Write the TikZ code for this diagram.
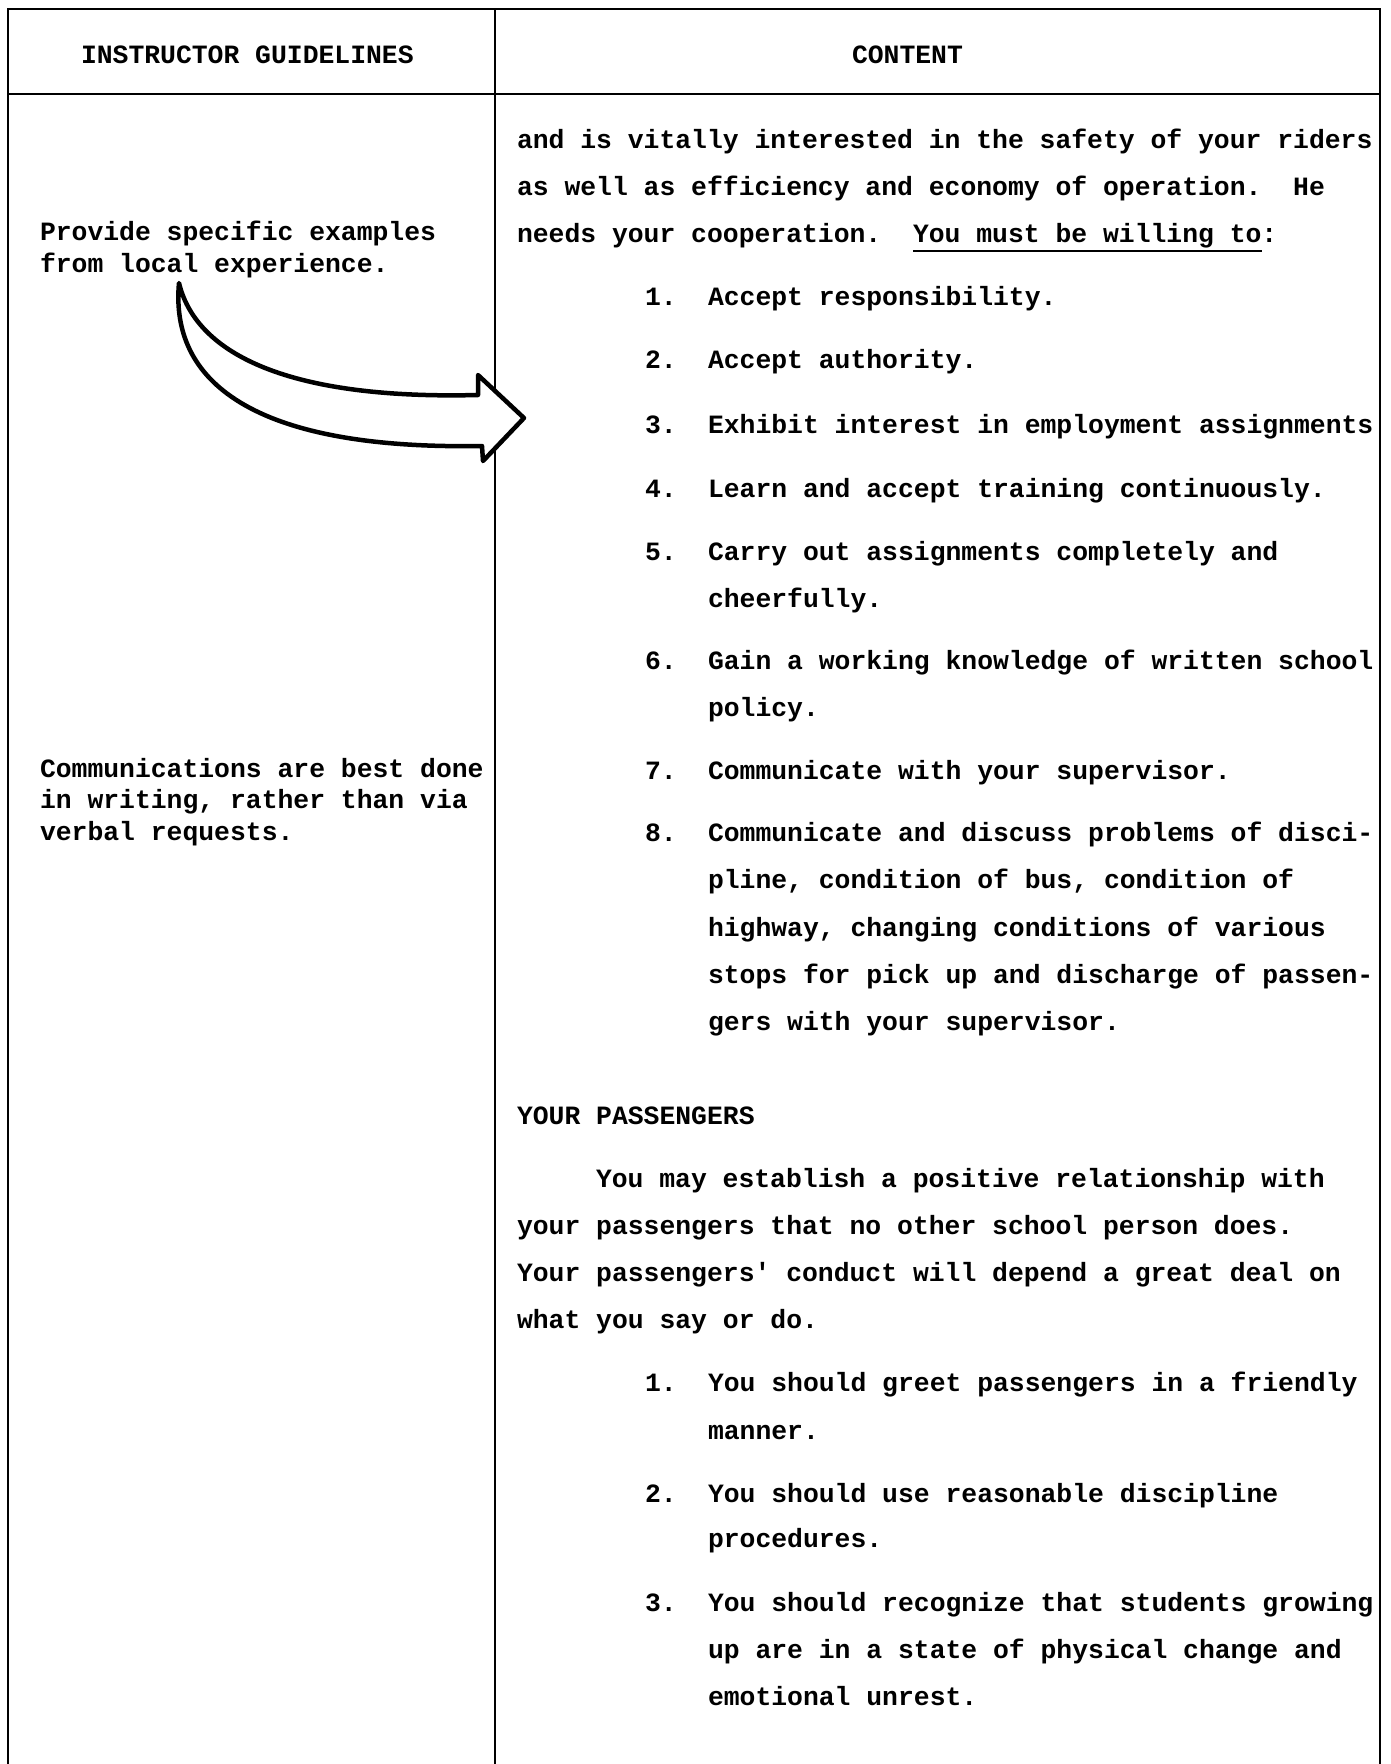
\documentclass[tikz,border=0pt]{standalone}
\usepackage{fontspec}
\newfontfamily\tw{Liberation Mono}
\tikzset{
  tbl/.style={line width=2.8pt, line cap=rect},
  ln/.style={anchor=base west, inner sep=0pt, outer sep=0pt, font=\tw\bfseries\fontsize{26.4}{31.5}\selectfont},
  hd/.style={ln},
  blockarrow/.style={line width=4.5pt, fill=white, line join=round}
}
\begin{document}
\begin{tikzpicture}[x=1pt, y=-1pt]
\fill[white] (0,0) rectangle (1391,1764);
\path[use as bounding box] (0,0) rectangle (1391,1764);
% table frame
\draw[tbl] (8,9) -- (1380,9);
\draw[tbl] (8,94) -- (1380,94);
\draw[tbl] (8,9) -- (8,1764);
\draw[tbl] (495,9) -- (495,1764);
\draw[tbl] (1380,9) -- (1380,1764);
% headers
\node[hd] (h1) at (81,63) {INSTRUCTOR GUIDELINES};
\node[hd] (h2) at (852,63) {CONTENT};
% left column
\node[ln] (g1a) at (40,240) {Provide specific examples};
\node[ln] (g1b) at (40,272) {from local experience.};
\node[ln] (g2a) at (40,777) {Communications are best done};
\node[ln] (g2b) at (40,808) {in writing, rather than via};
\node[ln] (g2c) at (40,840) {verbal requests.};
% intro
\node[ln] (i1) at (517,148) {and is vitally interested in the safety of your riders};
\node[ln] (i2) at (517,195) {as well as efficiency and economy of operation.\ \ He};
\node[ln] (i3) at (517,242) {needs your cooperation.\ \ You must be willing to:};
\draw[line width=2pt] (913,251) -- (1262,251);
% list 1
\node[ln] (n1) at (645,305) {1.};  \node[ln] (t1) at (708,305) {Accept responsibility.};
\node[ln] (n2) at (645,368) {2.};  \node[ln] (t2) at (708,368) {Accept authority.};
\node[ln] (n3) at (645,433) {3.};  \node[ln] (t3) at (708,433) {Exhibit interest in employment assignments};
\node[ln] (n4) at (645,497) {4.};  \node[ln] (t4) at (708,497) {Learn and accept training continuously.};
\node[ln] (n5) at (645,560) {5.};  \node[ln] (t5a) at (708,560) {Carry out assignments completely and};
\node[ln] (t5b) at (708,607) {cheerfully.};
\node[ln] (n6) at (645,669) {6.};  \node[ln] (t6a) at (708,669) {Gain a working knowledge of written school};
\node[ln] (t6b) at (708,716) {policy.};
\node[ln] (n7) at (645,779) {7.};  \node[ln] (t7) at (708,779) {Communicate with your supervisor.};
\node[ln] (n8) at (645,841) {8.};  \node[ln] (t8a) at (708,841) {Communicate and discuss problems of disci-};
\node[ln] (t8b) at (708,888) {pline, condition of bus, condition of};
\node[ln] (t8c) at (708,936) {highway, changing conditions of various};
\node[ln] (t8d) at (708,983) {stops for pick up and discharge of passen-};
\node[ln] (t8e) at (708,1030) {gers with your supervisor.};
% passengers
\node[ln] (ph) at (517,1124) {YOUR PASSENGERS};
\node[ln] (p1) at (596,1187) {You may establish a positive relationship with};
\node[ln] (p2) at (517,1234) {your passengers that no other school person does.};
\node[ln] (p3) at (517,1281) {Your passengers' conduct will depend a great deal on};
\node[ln] (p4) at (517,1328) {what you say or do.};
% list 2
\node[ln] (m1) at (645,1391) {1.}; \node[ln] (s1a) at (708,1391) {You should greet passengers in a friendly};
\node[ln] (s1b) at (708,1439) {manner.};
\node[ln] (m2) at (645,1502) {2.}; \node[ln] (s2a) at (708,1502) {You should use reasonable discipline};
\node[ln] (s2b) at (708,1547) {procedures.};
\node[ln] (m3) at (645,1611) {3.}; \node[ln] (s3a) at (708,1611) {You should recognize that students growing};
\node[ln] (s3b) at (708,1658) {up are in a state of physical change and};
\node[ln] (s3c) at (708,1705) {emotional unrest.};
% curved block arrow
\coordinate (tail) at (179,283);
\coordinate (tip) at (524,418);
\draw[blockarrow] (tail) .. controls (195,350) and (280,400) .. (478,395)
  -- (478,375) -- (tip) -- (483,461) -- (482,446)
  .. controls (250,450) and (170,380) .. (tail) -- cycle;
\end{tikzpicture}
\end{document}
